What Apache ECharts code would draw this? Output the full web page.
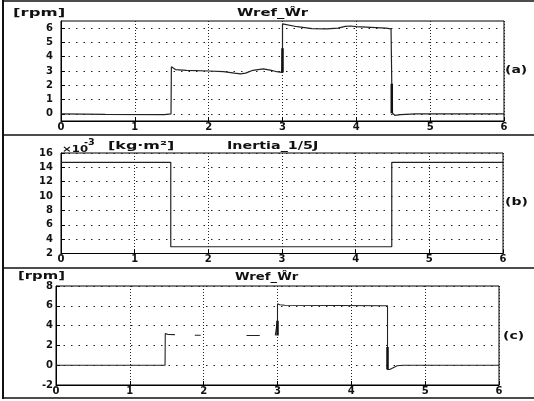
<!DOCTYPE html>
<html><head><meta charset="utf-8">
<script src="https://cdn.jsdelivr.net/npm/echarts@6/dist/echarts.min.js"></script>
<style>html,body{margin:0;padding:0;background:#fff}#c{width:534px;height:401px}</style>
</head><body><div id="c"></div>
<script>
// X ticks (time, s)
var xTicks = [0, 1, 2, 3, 4, 5, 6];
// Panel (a): speed reference / estimate [rpm]
var yTicksA = [0, 1, 2, 3, 4, 5, 6];
var tA = [0, 0.6, 1.4, 1.49, 1.495, 1.52, 1.55, 1.7, 2.0, 2.2, 2.35, 2.43, 2.5, 2.6, 2.74, 2.85, 2.92, 2.99, 3.0, 3.0, 3.02, 3.2, 3.4, 3.6, 3.75, 3.85, 3.92, 4.0, 4.2, 4.4, 4.47, 4.48, 4.49, 4.52, 4.6, 4.8, 6];
var yA = [0, -0.03, -0.05, 0, 3.3, 3.25, 3.1, 3.05, 3.0, 2.95, 2.85, 2.8, 2.85, 3.05, 3.15, 3.05, 2.95, 2.9, 4.6, 6.3, 6.2, 6.1, 5.97, 5.95, 6.0, 6.12, 6.15, 6.1, 6.05, 6.0, 5.95, 2.1, 0.05, -0.1, -0.05, 0, 0];
var thickTA1 = [3.0, 3.0], thickYA1 = [2.9, 4.6];
var thickTA2 = [4.48, 4.48], thickYA2 = [2.1, 0.05];
// Panel (b): inertia x10^-3 [kg m^2]
var yTicksB = [2, 4, 6, 8, 10, 12, 14, 16];
var tB = [0, 1.49, 1.49, 4.49, 4.49, 6];
var yB = [14.7, 14.7, 2.94, 2.94, 14.7, 14.7];
// Panel (c): speed reference / estimate [rpm] ('-' = faded, not visible)
var yTicksC = [-2, 0, 2, 4, 6, 8];
var tC = [0, 1.477, 1.48, 1.5, 1.52, 1.61, 1.62, 1.88, 1.96, 1.97, 2.58, 2.76, 2.77, 2.97, 2.99, 3.0, 3.0, 3.03, 3.1, 4.49, 4.49, 4.49, 4.52, 4.62, 4.7, 6];
var yC = [0, 0, 3.19, 3.19, 3.1, 3.09, '-', 3.02, 3.02, '-', 3.0, 3.0, '-', 3.0, 3.0, 4.5, 6.2, 6.1, 6.05, 6.0, 1.84, -0.43, -0.43, -0.05, 0, 0];
var thickTC = [3.0, 3.0], thickYC = [3.0, 4.5];
var thickTC2 = [4.49, 4.49], thickYC2 = [1.84, -0.43];

function pairs(t, y) { return t.map(function (v, i) { return [v, y[i]]; }); }

var tickFont = { fontFamily: 'DejaVu Sans', fontWeight: 'bold', fontSize: 10, color: '#111' };
function xAx(gi) {
  return {
    type: 'value', gridIndex: gi, min: 0, max: 6, interval: 1,
    axisLine: { show: true, onZero: false, lineStyle: { color: '#000', width: 1 } },
    axisTick: { show: true, inside: true, length: 4, lineStyle: { color: '#000' } },
    axisLabel: Object.assign({ margin: 1 }, tickFont),
    splitLine: { show: true, lineStyle: { color: '#222', type: [1, 2], width: 1 } }
  };
}
function yAx(gi, mn, mx, ticks, margin) {
  var o = {
    type: 'value', gridIndex: gi, min: mn, max: mx,
    axisLine: { show: true, onZero: false, lineStyle: { color: '#000', width: 1 } },
    axisTick: { show: true, inside: true, length: 4, lineStyle: { color: '#000' }, customValues: ticks },
    axisLabel: Object.assign({ margin: margin, customValues: ticks }, tickFont),
    splitLine: { show: true, lineStyle: { color: '#222', type: [1.5, 6], width: 1 } }
  };
  return o;
}
function lineSer(gi, data, w, color) {
  return {
    type: 'line', xAxisIndex: gi, yAxisIndex: gi, data: data, showSymbol: false, symbol: 'none',
    lineStyle: { color: color || '#222', width: w }, animation: false, connectNulls: false, z: 5
  };
}
function txt(x, y, s, size, sx, align) {
  return {
    type: 'text', x: x, y: y, scaleX: sx || 1, z: 100,
    style: { text: s, fontFamily: 'DejaVu Sans', fontWeight: 'bold', fontSize: size, fill: '#111',
      textAlign: align || 'left', textVerticalAlign: 'middle' }
  };
}
function hline(y, w) {
  return { type: 'line', shape: { x1: 3, y1: y, x2: 534, y2: y }, style: { stroke: '#111', lineWidth: w || 1.5 }, z: 100 };
}

var chart = echarts.init(document.getElementById('c'), null, { renderer: 'canvas' });
chart.setOption({
  animation: false,
  backgroundColor: '#fff',
  grid: [
    { left: 61, top: 21, width: 443, height: 100, show: true, borderColor: '#000', borderWidth: 1 },
    { left: 61, top: 153, width: 442, height: 100.5, show: true, borderColor: '#000', borderWidth: 1 },
    { left: 56, top: 286, width: 443, height: 99, show: true, borderColor: '#000', borderWidth: 1 }
  ],
  xAxis: [xAx(0), xAx(1), xAx(2)],
  yAxis: [yAx(0, -0.5, 6.5, yTicksA, 8), yAx(1, 2, 16, yTicksB, 8), yAx(2, -2, 8, yTicksC, 3)],
  series: [
    lineSer(0, pairs(tA, yA), 1.2),
    lineSer(0, pairs(thickTA1, thickYA1), 2.5, '#111'),
    lineSer(0, pairs(thickTA2, thickYA2), 2.5, '#111'),
    lineSer(1, pairs(tB, yB), 1.2),
    lineSer(2, pairs(tC, yC), 1.1),
    lineSer(2, pairs(thickTC, thickYC), 2.5, '#111'),
    lineSer(2, pairs(thickTC2, thickYC2), 2.5, '#111')
  ],
  graphic: [
    { type: 'line', shape: { x1: 3, y1: 0, x2: 3, y2: 399 }, style: { stroke: '#111', lineWidth: 2 }, z: 100 },
    hline(1, 1.5), hline(135, 1.5), hline(268, 1.5), hline(398, 1.5),
    txt(13, 13, '[rpm]', 11, 1.5),
    txt(237, 13, 'Wref_Ŵr', 11, 1.35),
    txt(62, 150, '×10', 9, 1.3),
    txt(84, 143, '-3', 8, 1.2),
    txt(108, 146, '[kg·m²]', 11, 1.45),
    txt(227, 146, 'Inertia_1/5J', 11, 1.3),
    txt(18, 276, '[rpm]', 11, 1.35),
    txt(235, 277, 'Wref_Ŵr', 11, 1.2),
    txt(505, 70, '(a)', 10, 1.4),
    txt(505, 202, '(b)', 10, 1.4),
    txt(503, 336, '(c)', 10, 1.4)
  ]
});
</script></body></html>
